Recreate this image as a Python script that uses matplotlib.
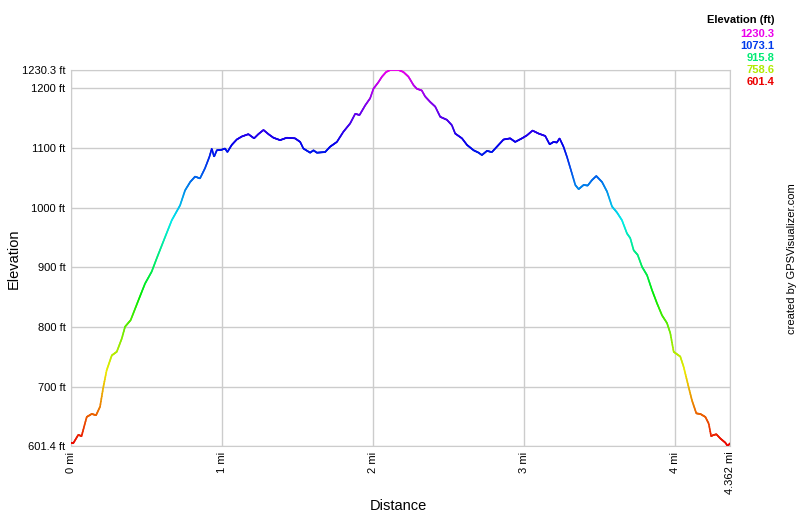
import matplotlib.pyplot as plt
import numpy as np
from matplotlib.collections import LineCollection
import colorsys

# Track profile (distance in mi, elevation in ft)
dist = [0.0, 0.015, 0.048, 0.07, 0.104, 0.137, 0.166, 0.192, 0.214, 0.236, 0.27, 0.303,
        0.336, 0.358, 0.395, 0.446, 0.49, 0.534, 0.567, 0.623, 0.667, 0.722, 0.755, 0.789,
        0.821, 0.854, 0.887, 0.916, 0.932, 0.947, 0.965, 0.998, 1.02, 1.035, 1.064, 1.097,
        1.13, 1.174, 1.212, 1.24, 1.274, 1.307, 1.34, 1.384, 1.428, 1.483, 1.517, 1.538,
        1.583, 1.605, 1.627, 1.682, 1.715, 1.76, 1.803, 1.848, 1.881, 1.91, 1.947, 1.98,
        2.002, 2.035, 2.058, 2.086, 2.113, 2.168, 2.2, 2.234, 2.267, 2.289, 2.322, 2.344,
        2.377, 2.411, 2.444, 2.488, 2.521, 2.543, 2.588, 2.621, 2.665, 2.698, 2.72, 2.753,
        2.786, 2.819, 2.863, 2.907, 2.94, 2.985, 3.018, 3.055, 3.095, 3.139, 3.168, 3.194,
        3.216, 3.234, 3.26, 3.283, 3.309, 3.338, 3.36, 3.393, 3.42, 3.448, 3.477, 3.515,
        3.548, 3.581, 3.614, 3.647, 3.68, 3.702, 3.724, 3.751, 3.78, 3.813, 3.846, 3.879,
        3.912, 3.945, 3.967, 3.989, 4.033, 4.055, 4.088, 4.11, 4.139, 4.166, 4.199, 4.221,
        4.237, 4.255, 4.272, 4.298, 4.331, 4.347, 4.362]
elev = [607, 606, 620, 618, 650, 655, 653, 667, 700, 728, 753, 759,
        781, 801, 812, 845, 873, 893, 915, 951, 979, 1004, 1029, 1043,
        1052, 1049, 1066, 1085, 1099, 1085, 1096, 1097, 1099, 1093, 1105, 1114,
        1119, 1123, 1116, 1123, 1130, 1123, 1117, 1113, 1117, 1116, 1110, 1099,
        1092, 1096, 1092, 1093, 1102, 1110, 1127, 1141, 1157, 1155, 1171, 1183,
        1199, 1210, 1219, 1227, 1230.3, 1230.3, 1227, 1219, 1205, 1199, 1196, 1186,
        1177, 1169, 1152, 1147, 1138, 1124, 1116, 1105, 1096, 1092, 1088, 1095,
        1093, 1102, 1114, 1116, 1110, 1116, 1121, 1129, 1124, 1120, 1106, 1110,
        1109, 1116, 1102, 1085, 1063, 1038, 1031, 1038, 1037, 1046, 1053, 1043,
        1027, 1002, 992, 979, 957, 949, 929, 921, 901, 887, 862, 840,
        820, 807, 790, 759, 751, 734, 700, 678, 656, 655, 650, 639,
        618, 620, 621, 614, 607, 601.4, 606]

e_min, e_max = 601.4, 1230.3
legend_vals = [1230.3, 1073.1, 915.8, 758.6, 601.4]
y_ticks = [601.4, 700, 800, 900, 1000, 1100, 1200, 1230.3]
y_labels = ['601.4 ft', '700 ft', '800 ft', '900 ft', '1000 ft', '1100 ft', '1200 ft', '1230.3 ft']
x_ticks = [0, 1, 2, 3, 4, 4.362]
x_labels = ['0 mi', '1 mi', '2 mi', '3 mi', '4 mi', '4.362 mi']


def elev_color(e):
    h = (e - e_min) / (e_max - e_min) * 300 / 360
    return colorsys.hsv_to_rgb(h, 1, 0.92)


plt.rcParams['font.family'] = ['Liberation Sans', 'DejaVu Sans']
fig = plt.figure(figsize=(8, 5.17), dpi=100)
ax = fig.add_axes([0.08875, 0.1373, 0.82375, 0.7273])

# densify so colour changes smoothly along the line
xd = np.linspace(dist[0], dist[-1], 1500)
yd = np.interp(xd, dist, elev)
pts = np.column_stack([xd, yd]).reshape(-1, 1, 2)
segs = np.concatenate([pts[:-1], pts[1:]], axis=1)
cols = [elev_color((a + b) / 2) for a, b in zip(yd[:-1], yd[1:])]
lc = LineCollection(segs, colors=cols, linewidths=1.2, capstyle='round', zorder=3)
ax.add_collection(lc)

ax.set_xlim(0, 4.362)
ax.set_ylim(e_min, e_max)
ax.set_xticks(x_ticks, x_labels, rotation=90, fontsize=8)
ax.set_yticks(y_ticks, y_labels, fontsize=8)
ax.tick_params(length=0, pad=4)
ax.grid(True, color='#cccccc', linewidth=1)
for sp in ax.spines.values():
    sp.set_color('#cccccc')

fig.text(0.4975, 0.021, 'Distance', fontsize=10.5, ha='center', va='center')
fig.text(0.0175, 0.50, 'Elevation', fontsize=10.5, rotation=90, ha='center', va='center')

fig.text(0.968, 0.961, 'Elevation (ft)', fontsize=8, fontweight='bold', ha='right', va='center')
for i, v in enumerate(legend_vals):
    fig.text(0.968, 0.935 - i * 0.0232, f'{v:.1f}', fontsize=8, fontweight='bold',
             color=elev_color(v), ha='right', va='center')

fig.text(0.99, 0.50, 'created by GPSVisualizer.com', fontsize=8, rotation=90,
         ha='center', va='center')

fig.savefig('out.png', dpi=100, facecolor='white')
